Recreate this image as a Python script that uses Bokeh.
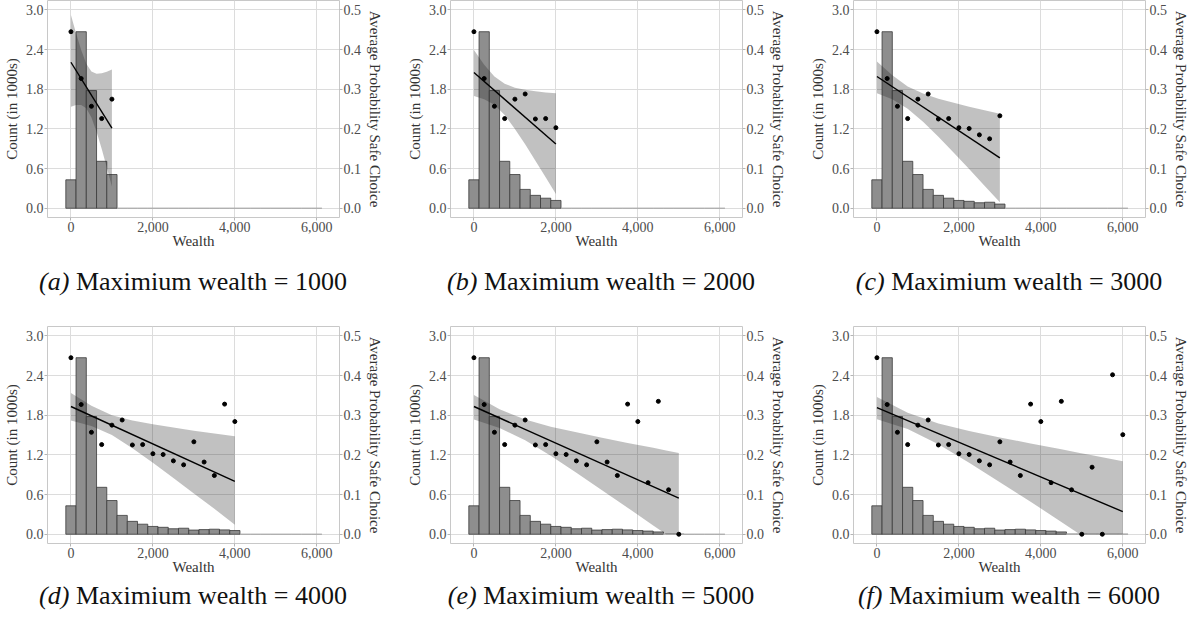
from bokeh.plotting import figure
from bokeh.models import Range1d, LinearAxis, FixedTicker, NumeralTickFormatter, ColumnDataSource, Div
from bokeh.layouts import column, row
from bokeh.embed import file_html
from bokeh.resources import INLINE

# ---------------- data ----------------
bin_centers = [0, 250, 500, 750, 1000, 1250, 1500, 1750, 2000, 2250, 2500, 2750, 3000,
               3250, 3500, 3750, 4000, 4250, 4500, 4750, 5000, 5250, 5500, 5750, 6000]
counts_k = [0.43, 2.67, 1.78, 0.71, 0.51, 0.285, 0.195, 0.152, 0.118, 0.105, 0.083, 0.091, 0.063,
            0.070, 0.076, 0.066, 0.056, 0.048, 0.035, 0.006, 0.006, 0.005, 0.005, 0.005, 0.005]
avg_prob = [0.445, 0.327, 0.257, 0.226, 0.275, 0.288, 0.225, 0.226, 0.203, 0.201, 0.185, 0.175, 0.233,
            0.182, 0.148, 0.328, 0.284, 0.130, 0.335, 0.112, 0.0, 0.169, 0.0, 0.402, 0.251]

max_wealth = [1000, 2000, 3000, 4000, 5000, 6000]
letters = ["a", "b", "c", "d", "e", "f"]

fit_start = [0.368, 0.342, 0.332, 0.322, 0.322, 0.319]
fit_end = [0.202, 0.162, 0.127, 0.133, 0.091, 0.057]

band_x_a = [0, 125, 250, 375, 500, 625, 750, 875, 1000]
band_up_a = [0.487, 0.441, 0.399, 0.364, 0.345, 0.339, 0.340, 0.344, 0.350]
band_lo_a = [0.256, 0.260, 0.260, 0.252, 0.229, 0.193, 0.150, 0.103, 0.055]

band_x_b = [0, 250, 500, 750, 1000, 1250, 1500, 1750, 2000]
band_up_b = [0.399, 0.362, 0.332, 0.314, 0.304, 0.299, 0.295, 0.292, 0.290]
band_lo_b = [0.283, 0.275, 0.261, 0.235, 0.200, 0.161, 0.120, 0.078, 0.036]

band_x_c = [0, 375, 750, 1125, 1500, 1875, 2250, 2625, 3000]
band_up_c = [0.370, 0.335, 0.307, 0.289, 0.276, 0.266, 0.256, 0.247, 0.238]
band_lo_c = [0.290, 0.275, 0.251, 0.218, 0.180, 0.140, 0.099, 0.057, 0.015]

band_x_d = [0, 500, 1000, 1500, 2000, 2500, 3000, 3500, 4000]
band_up_d = [0.356, 0.324, 0.300, 0.287, 0.277, 0.269, 0.261, 0.254, 0.247]
band_lo_d = [0.287, 0.273, 0.250, 0.217, 0.180, 0.142, 0.103, 0.064, 0.024]

band_x_e = [0, 625, 1250, 1875, 2500, 3125, 3750, 4375, 4690, 5000]
band_up_e = [0.351, 0.315, 0.289, 0.271, 0.257, 0.243, 0.230, 0.218, 0.211, 0.205]
band_lo_e = [0.289, 0.268, 0.237, 0.198, 0.155, 0.111, 0.067, 0.022, 0.0, 0.0]

band_x_f = [0, 750, 1500, 2250, 3000, 3750, 4500, 4950, 5250, 6000]
band_up_f = [0.346, 0.306, 0.279, 0.260, 0.244, 0.229, 0.214, 0.205, 0.199, 0.184]
band_lo_f = [0.290, 0.265, 0.227, 0.180, 0.131, 0.082, 0.031, 0.0, 0.0, 0.0]

band_x = [band_x_a, band_x_b, band_x_c, band_x_d, band_x_e, band_x_f]
band_up = [band_up_a, band_up_b, band_up_c, band_up_d, band_up_e, band_up_f]
band_lo = [band_lo_a, band_lo_b, band_lo_c, band_lo_d, band_lo_e, band_lo_f]

count_ticks = [0, 0.6, 1.2, 1.8, 2.4, 3.0]
prob_ticks = [0, 0.1, 0.2, 0.3, 0.4, 0.5]
wealth_ticks = [0, 2000, 4000, 6000]

# ---------------- styling ----------------
FONT = "Liberation Serif"
BIN_W = 250


def style_axis(ax):
    ax.axis_line_color = None
    ax.major_tick_line_color = "#b5b5b5"
    ax.major_tick_out = 3
    ax.major_tick_in = 0
    ax.minor_tick_line_color = None
    ax.major_label_text_font = FONT
    ax.major_label_text_font_size = "14px"
    ax.major_label_text_color = "#4d4d4d"
    ax.major_label_standoff = 1
    ax.axis_label_text_font = FONT
    ax.axis_label_text_font_size = "15px"
    ax.axis_label_text_font_style = "normal"
    ax.axis_label_text_color = "#333333"
    ax.axis_label_standoff = 3


def make_panel(k, right_border):
    mw = max_wealth[k]
    p = figure(frame_width=292, frame_height=217,
               x_range=Range1d(-572, 6554), y_range=Range1d(-0.14, 3.142),
               output_backend="svg", toolbar_location=None,
               min_border_left=0, min_border_right=right_border,
               min_border_top=0, min_border_bottom=0,
               background_fill_color="white", border_fill_color="white")
    p.extra_y_ranges = {"prob": Range1d(-0.14 / 6, 3.142 / 6)}
    p.outline_line_color = "#c8c8c8"

    tops = [c if x <= mw else 0.0 for x, c in zip(bin_centers, counts_k)]
    lcol = ["#3a3a3a" if t > 0.01 else "#a8a8a8" for t in tops]
    src = ColumnDataSource(dict(left=[x - BIN_W / 2 for x in bin_centers],
                                right=[x + BIN_W / 2 for x in bin_centers],
                                top=tops, bottom=[0.0] * len(tops), lc=lcol))
    p.quad(left="left", right="right", top="top", bottom="bottom", source=src,
           fill_color="#8e8e8e", line_color="lc", line_width=0.8)

    p.varea(x=band_x[k], y1=band_lo[k], y2=band_up[k], fill_color="#1a1a1a",
            fill_alpha=0.27, y_range_name="prob")
    p.line([0, mw], [fit_start[k], fit_end[k]], line_color="black", line_width=1.4,
           y_range_name="prob")
    px = [x for x in bin_centers if x <= mw]
    py = [v for x, v in zip(bin_centers, avg_prob) if x <= mw]
    p.scatter(px, py, size=4, color="black", y_range_name="prob")

    p.xaxis.ticker = FixedTicker(ticks=wealth_ticks)
    p.xaxis.formatter = NumeralTickFormatter(format="0,0")
    p.xaxis.axis_label = "Wealth"
    p.yaxis.ticker = FixedTicker(ticks=count_ticks)
    p.yaxis.formatter = NumeralTickFormatter(format="0.0")
    p.yaxis.axis_label = "Count (in 1000s)"

    rax = LinearAxis(y_range_name="prob", ticker=FixedTicker(ticks=prob_ticks),
                     formatter=NumeralTickFormatter(format="0.0"),
                     axis_label="Average Probability Safe Choice")
    p.add_layout(rax, "right")
    for ax in [p.xaxis[0], p.yaxis[0], rax]:
        style_axis(ax)
    p.xaxis[0].axis_label_standoff = -2

    p.xgrid.ticker = FixedTicker(ticks=wealth_ticks)
    p.ygrid.ticker = FixedTicker(ticks=count_ticks)
    for g in [p.xgrid[0], p.ygrid[0]]:
        g.grid_line_color = "#dcdcdc"
        g.grid_line_width = 1
    return p


def caption(k, w, h, pad):
    html = ('<div style="width:376px;text-align:center;font-family:\'Liberation Serif\';'
            'font-size:26px;color:#111;line-height:1.1;padding-top:%dpx">'
            '<i>(%s)</i> Maximium wealth = %d</div>' % (pad, letters[k], max_wealth[k]))
    return Div(text=html, width=w, height=h)


panels = [make_panel(k, 64 if k % 3 < 2 else 0) for k in range(6)]
widths = [398, 398, 378]
caps1 = [caption(k, widths[k], 65, 12) for k in range(3)]
caps2 = [caption(k + 3, widths[k], 32, 0) for k in range(3)]

layout = column(row(*panels[:3]), row(*caps1), row(*panels[3:]), row(*caps2))

open("out.html", "w").write(file_html(layout, INLINE))
